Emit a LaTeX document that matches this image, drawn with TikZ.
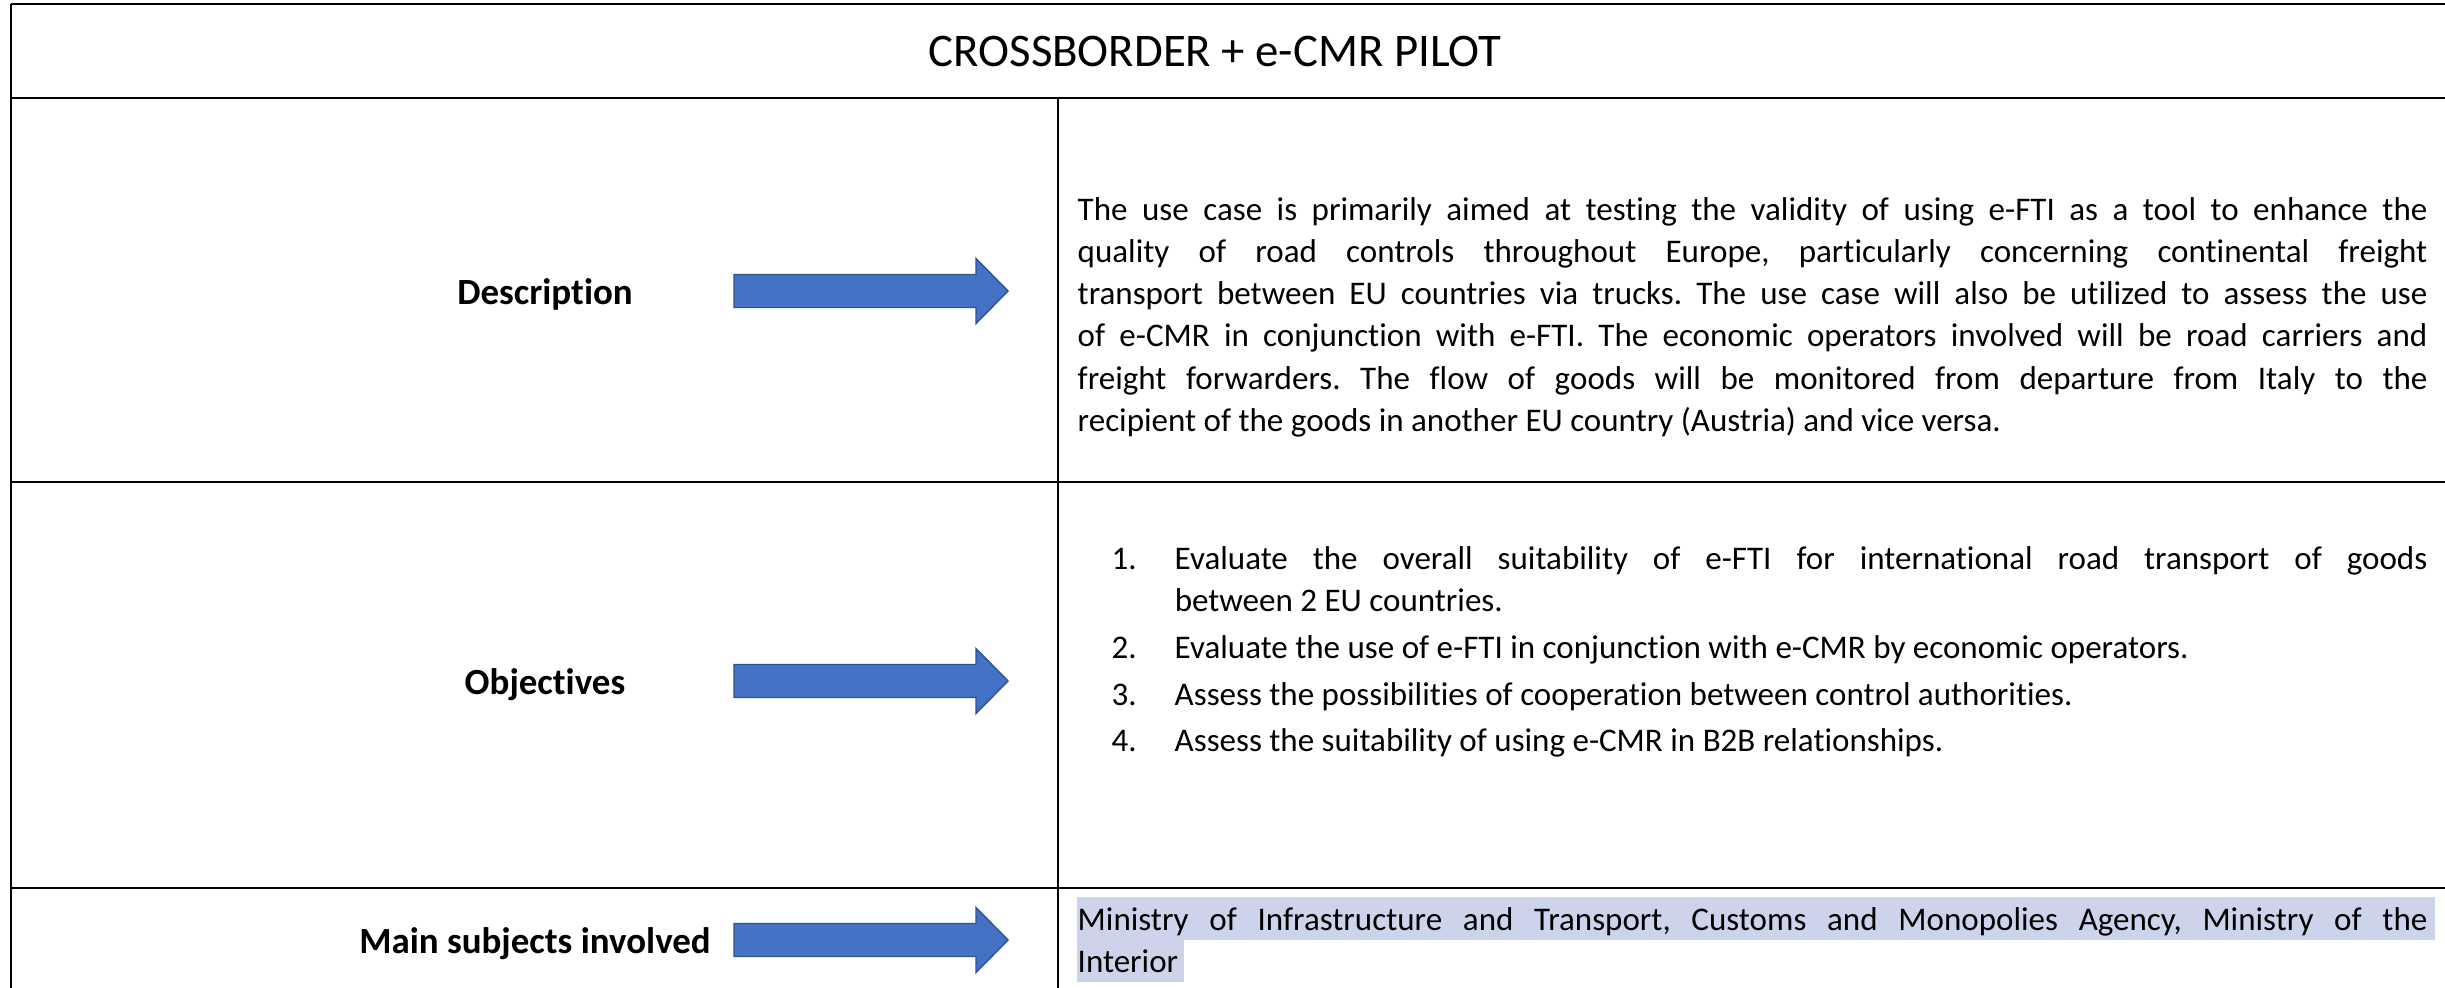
\documentclass[tikz,border=0pt]{standalone}
\usepackage{fontspec}
\setmainfont{Carlito}[Ligatures={NoCommon,NoContextual}]
\definecolor{arrowblue}{HTML}{4472C4}
\definecolor{arrowedge}{HTML}{2F528F}
\definecolor{marker}{RGB}{205,211,234}
\hyphenpenalty=10000
\exhyphenpenalty=10000
\frenchspacing
\begin{document}
\begin{tikzpicture}[x=0.01cm, y=-0.01cm,
    rowlabel/.style = {anchor=base, inner sep=0pt, font=\fontsize{10.5pt}{12pt}\selectfont\bfseries},
    cell/.style = {anchor=base west, inner sep=0pt, align=justify, font=\fontsize{9.39pt}{12.03pt}\selectfont},
    bluearrow/.style = {fill=arrowblue, draw=arrowedge, line width=0.4pt},
    rule/.style = {line width=0.6pt},
    boldrule/.style = {line width=0.8pt}]
    \useasboundingbox (0,0) rectangle (2445,987);
    \clip (0,0) rectangle (2445,987);

    % table frame
    \draw[boldrule] (11,4) -- (2460,4);
    \draw[boldrule] (11,98) -- (2460,98);
    \draw[boldrule] (11,4) -- (11,1000);
    \draw[rule] (1058,98) -- (1058,1000);
    \draw[rule] (11,482) -- (2460,482);
    \draw[rule] (11,888) -- (2460,888);

    \node[inner sep=0pt, font=\fontsize{13.3pt}{15pt}\selectfont] (title) at (1215,51) {CROSSBORDER + e-CMR PILOT};

    % row labels and arrows
    \node[rowlabel] (desclabel) at (545,304) {Description};
    \node[rowlabel] (objlabel) at (545,694) {Objectives};
    \node[rowlabel] (subjlabel) at (535,953) {Main subjects involved};
    \foreach \y in {291,681,940}
        \draw[bluearrow] (734,{\y-16.5}) -- (976,{\y-16.5}) -- (976,{\y-32.5}) -- (1008,\y)
            -- (976,{\y+32.5}) -- (976,{\y+16.5}) -- (734,{\y+16.5}) -- cycle;

    % right column
    \node[cell, text width=13.49cm] (desctext) at (1077,220) {%
        The use case is primarily aimed at testing the validity of using e-FTI as a tool to enhance the \linebreak
        quality of road controls throughout Europe, particularly concerning continental freight \linebreak
        transport between EU countries via trucks. The use case will also be utilized to assess the use \linebreak
        of e-CMR in conjunction with e-FTI. The economic operators involved will be road carriers and \linebreak
        freight forwarders. The flow of goods will be monitored from departure from Italy to the \linebreak
        recipient of the goods in another EU country (Austria) and vice versa.};

    \node[cell, text width=13.15cm] (objtext) at (1111,569) {%
        \parindent=0pt\parskip=1.3pt
        \hangindent=0.63cm\hangafter=1\makebox[0.63cm][l]{1.}Evaluate the overall suitability of e-FTI for international road transport of goods \linebreak between 2 EU countries.\par
        \hangindent=0.63cm\hangafter=1\makebox[0.63cm][l]{2.}Evaluate the use of e-FTI in conjunction with e-CMR by economic operators.\par
        \hangindent=0.63cm\hangafter=1\makebox[0.63cm][l]{3.}Assess the possibilities of cooperation between control authorities.\par
        \hangindent=0.63cm\hangafter=1\makebox[0.63cm][l]{4.}Assess the suitability of using e-CMR in B2B relationships.};

    \fill[marker] (1077,897) rectangle (2435,940);
    \fill[marker] (1077,940) rectangle (1184,982);
    \node[cell, text width=13.49cm] (subjtext) at (1077,930) {%
        Ministry of Infrastructure and Transport, Customs and Monopolies Agency, Ministry of the \linebreak
        Interior};
\end{tikzpicture}
\end{document}
